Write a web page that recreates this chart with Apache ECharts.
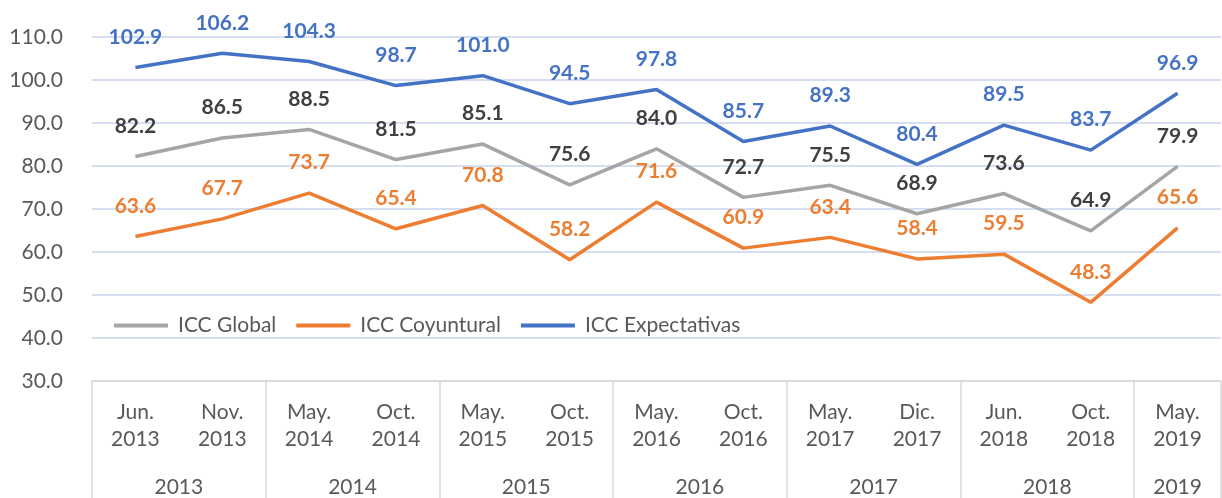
<!DOCTYPE html>
<html>
<head>
<meta charset="utf-8">
<script src="https://cdn.jsdelivr.net/npm/echarts@6/dist/echarts.min.js"></script>
<style>
  html, body { margin: 0; padding: 0; background: #fff; }
  #chart { width: 1222px; height: 498px; }
</style>
</head>
<body>
<div id="chart"></div>
<script>
const months = ['Jun.', 'Nov.', 'May.', 'Oct.', 'May.', 'Oct.', 'May.', 'Oct.', 'May.', 'Dic.', 'Jun.', 'Oct.', 'May.'];
const monthYears = ['2013', '2013', '2014', '2014', '2015', '2015', '2016', '2016', '2017', '2017', '2018', '2018', '2019'];
const years = ['2013', '2014', '2015', '2016', '2017', '2018', '2019'];
const yearSpans = [2, 2, 2, 2, 2, 2, 1];

const iccGlobal = [82.2, 86.5, 88.5, 81.5, 85.1, 75.6, 84.0, 72.7, 75.5, 68.9, 73.6, 64.9, 79.9];
const iccCoyuntural = [63.6, 67.7, 73.7, 65.4, 70.8, 58.2, 71.6, 60.9, 63.4, 58.4, 59.5, 48.3, 65.6];
const iccExpectativas = [102.9, 106.2, 104.3, 98.7, 101.0, 94.5, 97.8, 85.7, 89.3, 80.4, 89.5, 83.7, 96.9];

const yMin = 30;
const yMax = 110;
const yStep = 10;

// year group boundaries and centers, on a 0..n scale
const boundaries = [0];
const centers = [];
yearSpans.forEach((s) => {
  const start = boundaries[boundaries.length - 1];
  centers.push(start + s / 2);
  boundaries.push(start + s);
});

const FONT = 'Lato';
const AXIS_GRAY = '#d9d9d9';
const TEXT_GRAY = '#595959';

const makeSeries = (name, data, color, labelColor) => ({
  name: name,
  type: 'line',
  data: data,
  symbol: 'circle',
  symbolSize: 0,
  showSymbol: true,
  color: color,
  lineStyle: { width: 3.5, color: color },
  emphasis: { disabled: true },
  label: {
    show: true,
    position: 'top',
    distance: 20,
    formatter: (p) => p.value.toFixed(1),
    color: labelColor,
    fontFamily: FONT,
    fontWeight: 'bold',
    fontSize: 21
  }
});

const chart = echarts.init(document.getElementById('chart'));
chart.setOption({
  animation: false,
  grid: { left: 92, right: 1, top: 37, bottom: 117 },
  legend: {
    left: 109,
    top: 310,
    icon: 'rect',
    itemWidth: 54,
    itemHeight: 4,
    itemGap: 20,
    textStyle: { fontFamily: FONT, fontSize: 21, color: TEXT_GRAY, padding: [0, 0, 0, 5] },
    data: ['ICC Global', 'ICC Coyuntural', 'ICC Expectativas']
  },
  xAxis: [
    {
      type: 'category',
      data: months.map((m, i) => m + '\n' + monthYears[i]),
      boundaryGap: true,
      axisLine: { lineStyle: { color: AXIS_GRAY, width: 1.5 } },
      axisTick: { show: false },
      axisLabel: {
        interval: 0,
        margin: 18,
        fontFamily: FONT,
        fontSize: 21,
        lineHeight: 27,
        color: TEXT_GRAY
      }
    },
    {
      type: 'value',
      position: 'bottom',
      min: 0,
      max: months.length,
      axisLine: { show: false },
      splitLine: { show: false },
      axisTick: {
        show: true,
        customValues: boundaries,
        length: 117,
        lineStyle: { color: AXIS_GRAY, width: 1.5 }
      },
      axisLabel: {
        customValues: centers,
        formatter: (v) => years[centers.indexOf(v)],
        margin: 96,
        fontFamily: FONT,
        fontSize: 21,
        color: TEXT_GRAY
      }
    }
  ],
  yAxis: {
    type: 'value',
    min: yMin,
    max: yMax,
    interval: yStep,
    axisLine: { show: false },
    axisTick: { show: false },
    splitLine: { lineStyle: { color: '#c9d5ec', width: 1.5 } },
    axisLabel: {
      margin: 29,
      formatter: (v) => v.toFixed(1),
      fontFamily: FONT,
      fontSize: 21,
      color: TEXT_GRAY
    }
  },
  series: [
    makeSeries('ICC Global', iccGlobal, '#a5a5a5', '#404040'),
    makeSeries('ICC Coyuntural', iccCoyuntural, '#ed7d31', '#ed7d31'),
    makeSeries('ICC Expectativas', iccExpectativas, '#4472c4', '#4472c4')
  ]
});
</script>
</body>
</html>
